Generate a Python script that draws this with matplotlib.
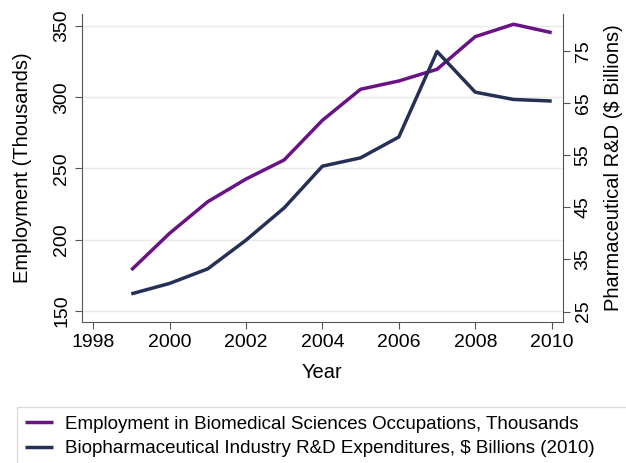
import matplotlib
matplotlib.use("Agg")
import matplotlib.pyplot as plt
from matplotlib.patches import Rectangle

plt.rcParams['font.family'] = ['Liberation Sans', 'DejaVu Sans']

years = [1999, 2000, 2001, 2002, 2003, 2004, 2005, 2006, 2007, 2008, 2009, 2010]
employment = [178.8, 204.5, 226.7, 242.6, 256.0, 283.8, 305.6, 311.4, 319.6, 342.5, 351.2, 345.3]
rnd = [28.4, 30.4, 33.2, 38.7, 44.9, 52.9, 54.5, 58.5, 74.9, 67.1, 65.7, 65.4]

emp_label = "Employment in Biomedical Sciences Occupations, Thousands"
rnd_label = "Biopharmaceutical Industry R&D Expenditures, $ Billions (2010)"

purple = "#6a1385"
navy = "#262f55"
spine_col = "#555555"

fig = plt.figure(figsize=(6.26, 4.63), dpi=100)
ax = fig.add_axes([0.131, 0.3045, 0.768, 0.6653])
ax2 = ax.twinx()

l1, = ax.plot(years, employment, color=purple, lw=2.5, solid_capstyle='butt', label=emp_label)
l2, = ax2.plot(years, rnd, color=navy, lw=2.5, solid_capstyle='butt', label=rnd_label)

ax.set_xlim(1997.71, 2010.29)
ax.set_ylim(142.3, 358.4)
ax2.set_ylim(23.0, 82.1)

ax.set_xticks(range(1998, 2011, 2))
ax.set_yticks(range(150, 351, 50))
ax2.set_yticks(range(25, 76, 10))

ax.grid(axis='y', color='#eaeaea', lw=1.0)
ax.set_axisbelow(True)

for a in (ax, ax2):
    a.spines['top'].set_visible(False)
    for s in a.spines.values():
        s.set_color(spine_col)
        s.set_linewidth(0.8)
    a.tick_params(colors=spine_col, labelcolor='black', labelsize=14, length=5, width=0.8)
ax.spines['right'].set_visible(False)
ax2.spines['left'].set_visible(False)
ax2.spines['bottom'].set_visible(False)

for t in ax.get_yticklabels():
    t.set_rotation(90)
    t.set_va('center')
for t in ax2.get_yticklabels():
    t.set_rotation(90)
    t.set_va('center')

ax.set_xlabel("Year", fontsize=14.5, labelpad=9)
ax.set_ylabel("Employment (Thousands)", fontsize=14.5, labelpad=15)
ax2.set_ylabel("Pharmaceutical R&D ($ Billions)", fontsize=14.5, labelpad=9)

# legend box running off the right/bottom edge like the original
fig.patches.append(Rectangle((17 / 626, -0.05), 1.0, (463 - 407) / 463 + 0.05,
                             transform=fig.transFigure, fill=False,
                             edgecolor='#dddddd', lw=1.0))
fig.legend(handles=[l1, l2], loc='upper left', bbox_to_anchor=(17 / 626, (463 - 408) / 463),
           frameon=False, fontsize=13.5, handlelength=1.5, handletextpad=0.64,
           labelspacing=0.4, borderaxespad=0.0, borderpad=0.4)

fig.savefig("out.png", dpi=100)
